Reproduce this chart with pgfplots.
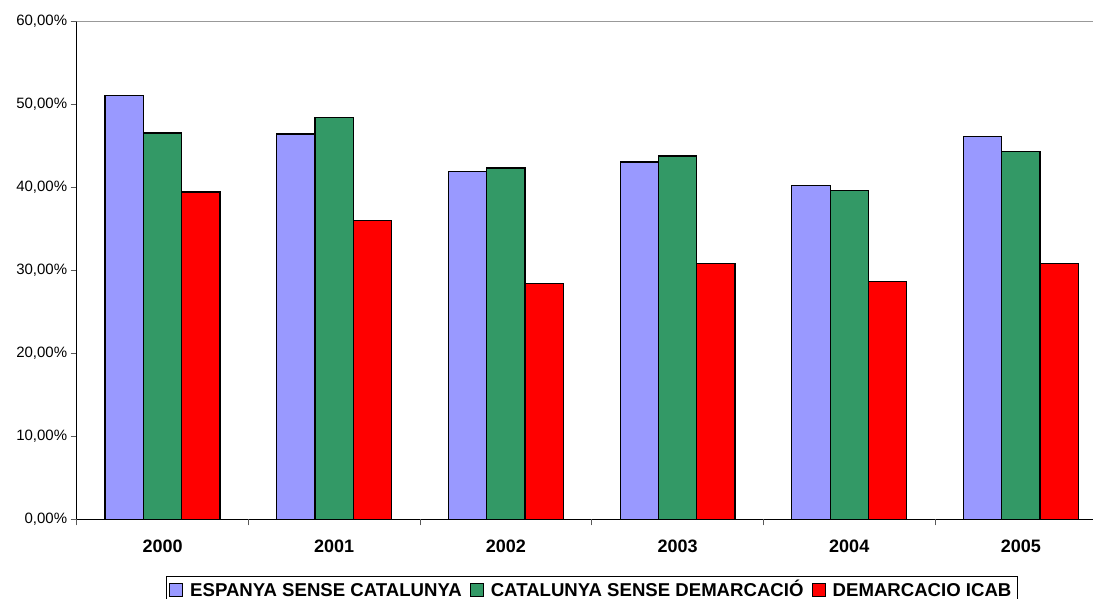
\documentclass[border=0pt]{standalone}
\usepackage{pgfplots}
\pgfplotsset{compat=1.18}
\usepackage{fontspec}
\setmainfont{Liberation Sans}
\definecolor{espblue}{RGB}{153,153,255}
\definecolor{catgreen}{RGB}{51,153,102}
\definecolor{icabred}{RGB}{255,0,0}

\begin{document}
\begin{tikzpicture}
  \begin{axis}[
    at={(0pt,0pt)}, anchor=south west,
    scale only axis,
    width=1016.3pt, height=497.6pt,
    xmin=-0.5, xmax=5.42,
    ymin=0, ymax=60,
    axis lines*=left,
    axis line style={black, line width=1.2pt},
    ybar=0pt,
    bar width=38.3pt,
    xtick={0,...,5},
    xticklabels={2000,2001,2002,2003,2004,2005},
    xtick style={draw=none},
    xticklabel style={font=\bfseries\fontsize{18}{21}\selectfont, yshift=-11pt},
    extra x ticks={-0.5,0.5,1.5,2.5,3.5,4.5},
    extra x tick labels={},
    extra x tick style={xtick style={draw=gray!70!black, line width=1pt}},
    ytick={0,10,...,60},
    yticklabel={\pgfmathprintnumber[fixed,fixed zerofill,precision=2,use comma,assume math mode=true]{\tick}\%},
    yticklabel style={font=\fontsize{15}{18}\selectfont},
    ytick style={draw=gray!70!black, line width=1pt},
    extra y ticks={60},
    extra y tick labels={},
    extra y tick style={grid=major, major grid style={draw=gray!80, line width=1.3pt}},
    tick align=outside,
    major tick length=6pt,
    legend style={
      at={(0.5068,-0.1139)}, anchor=north,
      legend columns=-1,
      draw=black, line width=1pt,
      inner xsep=3pt, inner ysep=0.5pt,
      font=\bfseries\fontsize{18.6}{20}\selectfont,
      /tikz/every odd column/.append style={column sep=0pt},
      /tikz/every even column/.append style={column sep=5pt},
      nodes={inner xsep=3pt, inner ysep=1pt, text height=19pt, text depth=2pt},
    },
    legend image code/.code={\draw[#1, line width=1pt] (3pt,-8.5pt) rectangle (16pt,4.5pt);
      \path (20pt,0pt);},
  ]
    \addplot[fill=espblue, draw=black, line width=1.2pt] coordinates {
      (0,51.08) (1,46.46) (2,41.93) (3,43.08) (4,40.28) (5,46.18)};
    \addplot[fill=catgreen, draw=black, line width=1.2pt] coordinates {
      (0,46.58) (1,48.43) (2,42.36) (3,43.81) (4,39.64) (5,44.37)};
    \addplot[fill=icabred, draw=black, line width=1.2pt] coordinates {
      (0,39.47) (1,36.06) (2,28.39) (3,30.88) (4,28.67) (5,30.84)};
    \legend{ESPANYA SENSE CATALUNYA, CATALUNYA SENSE DEMARCACIÓ, DEMARCACIO ICAB}
  \end{axis}
  \pgfresetboundingbox
  \path[use as bounding box] (-76.7pt,-79.7pt) rectangle (1016.3pt,519.3pt);
\end{tikzpicture}
\end{document}
